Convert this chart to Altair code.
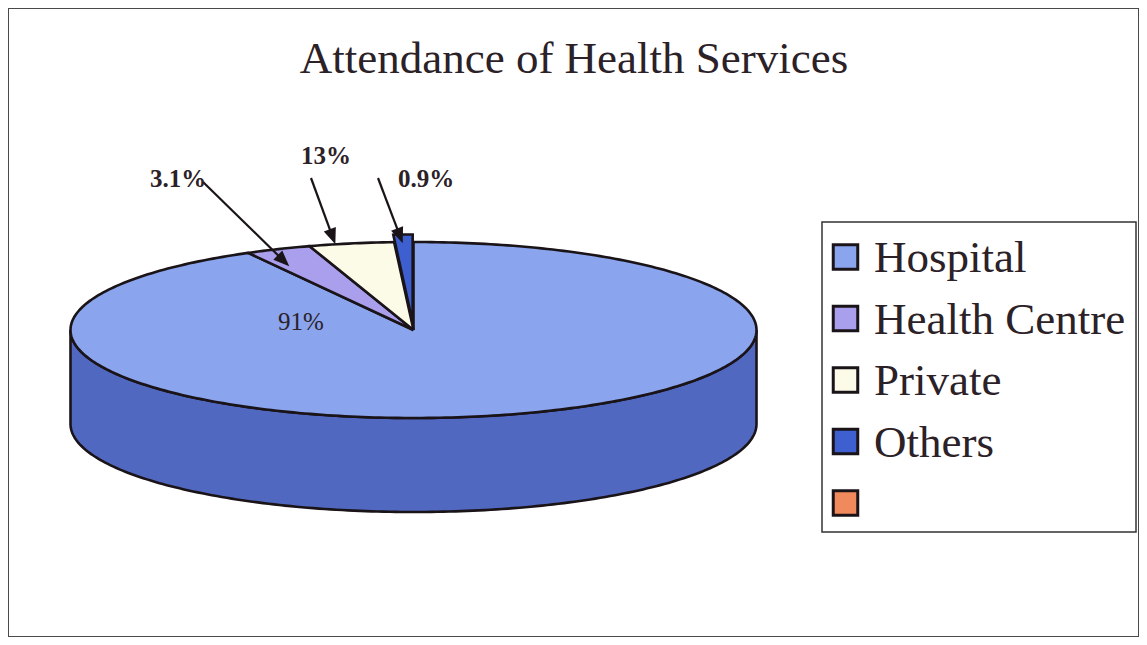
import numpy as np
import pandas as pd
import altair as alt

# ---------------- data ----------------
title_text = "Attendance of Health Services"
categories = ["Hospital", "Health Centre", "Private", "Others"]
shares = [92.0, 3.1, 4.0, 0.9]            # slice sizes as drawn
slice_labels = ["91%", "3.1%", "13%", "0.9%"]  # label texts as printed
legend_items = ["Hospital", "Health Centre", "Private", "Others", " "]
colors = ["#8aa4ee", "#a99fec", "#fbfbe8", "#3d5fcf", "#f08a5c"]
side_color = "#5068c0"
explode = [0.0, 0.0, 0.0, 0.085]

# ---------------- layout (pixels) ----------------
W, H = 1131, 629
CX, CY, RX, RY, DEPTH = 405.5, 322.0, 343.0, 88.0, 94.0
INK = "#2b2127"
SERIF = "Liberation Serif"
LINE_W = 2.6


def ell(theta, r=1.0, ox=0.0, oy=0.0, dy=0.0):
    t = np.radians(theta)
    return CX + ox + r * RX * np.sin(t), CY + oy + dy - r * RY * np.cos(t)


total = sum(shares)
bounds = np.concatenate([[0.0], np.cumsum(shares)]) / total * 360.0

top_rows, side_rows, offsets = [], [], []
for i, cat in enumerate(categories):
    a0, a1 = bounds[i], bounds[i + 1]
    mid = np.radians((a0 + a1) / 2)
    ox = explode[i] * RX * np.sin(mid)
    oy = -explode[i] * RY * np.cos(mid)
    offsets.append((ox, oy))
    n = max(3, int(np.ceil(a1 - a0)))
    pts = [ell(0, 0, ox, oy)] + [ell(a, 1, ox, oy) for a in np.linspace(a0, a1, n + 1)] + [ell(0, 0, ox, oy)]
    for k, (x, y) in enumerate(pts):
        top_rows.append(dict(slice=cat, x=x, y=y, k=k))
    # visible front side (90..270 deg)
    s0, s1 = max(a0, 90.0), min(a1, 270.0)
    if s1 > s0:
        arc = np.linspace(s0, s1, int(np.ceil(s1 - s0)) + 1)
        spts = [ell(a, 1, ox, oy) for a in arc] + [ell(a, 1, ox, oy, DEPTH) for a in arc[::-1]]
        spts.append(spts[0])
        for k, (x, y) in enumerate(spts):
            side_rows.append(dict(slice=cat, x=x, y=y, k=k))

top_df = pd.DataFrame(top_rows)
side_df = pd.DataFrame(side_rows)

xs = alt.Scale(domain=[0, W], nice=False, zero=False)
ys = alt.Scale(domain=[0, H], nice=False, zero=False, reverse=True)
fill_scale = alt.Scale(domain=legend_items, range=colors)

side = alt.Chart(side_df).mark_line(stroke="#1a1418", strokeWidth=LINE_W, fill=side_color).encode(
    x=alt.X("x:Q", scale=xs, axis=None),
    y=alt.Y("y:Q", scale=ys, axis=None),
    order="k:Q",
    detail="slice:N",
)

top = alt.Chart(top_df).mark_line(stroke="#1a1418", strokeWidth=LINE_W, strokeJoin="miter").encode(
    x=alt.X("x:Q", scale=xs, axis=None),
    y=alt.Y("y:Q", scale=ys, axis=None),
    order="k:Q",
    detail="slice:N",
    fill=alt.Fill("slice:N", scale=fill_scale, legend=None),
)

# ---------------- call-outs ----------------
tip_t = {1: 0.2, 2: 0.31, 3: 0.43}
tip_r = {1: 0.81, 2: 1.0, 3: 0.9}
label_pos = {0: (293, 322), 1: (170, 179), 2: (318, 156), 3: (418, 179)}
arrow_from = {1: (195, 174), 2: (303, 170), 3: (370, 170)}

lab_rows, arr_rows, head_rows = [], [], []
for i, txt in enumerate(slice_labels):
    lx, ly = label_pos[i]
    lab_rows.append(dict(x=lx, y=ly, text=txt, bold=i > 0))
    if i in tip_t:
        a = bounds[i] + tip_t[i] * (bounds[i + 1] - bounds[i])
        tx, ty = ell(a, tip_r[i], *offsets[i])
        sx, sy = arrow_from[i]
        dx, dy = tx - sx, ty - sy
        L = np.hypot(dx, dy)
        ux, uy = dx / L, dy / L
        arr_rows.append(dict(x=sx, y=sy, x2=tx - 13 * ux, y2=ty - 13 * uy))
        ang = (np.degrees(np.arctan2(dx, -dy)) + 360) % 360
        head_rows.append(dict(x=tx - 8 * ux, y=ty - 8 * uy, ang=ang))

lab_df = pd.DataFrame(lab_rows)
arrows = alt.Chart(pd.DataFrame(arr_rows)).mark_rule(color="#1a1418", strokeWidth=2.2).encode(
    x=alt.X("x:Q", scale=xs, axis=None), y=alt.Y("y:Q", scale=ys, axis=None),
    x2="x2:Q", y2="y2:Q",
)
heads = alt.Chart(pd.DataFrame(head_rows)).mark_point(
    shape="M0,-1L0.8,1L-0.8,1Z", filled=True, color="#1a1418", size=256, opacity=1
).encode(
    x=alt.X("x:Q", scale=xs, axis=None), y=alt.Y("y:Q", scale=ys, axis=None),
    angle=alt.Angle("ang:Q", scale=None),
)
bold_labels = alt.Chart(lab_df[lab_df.bold]).mark_text(
    font=SERIF, fontSize=25, fontWeight="bold", color=INK, align="center", baseline="alphabetic"
).encode(x=alt.X("x:Q", scale=xs, axis=None), y=alt.Y("y:Q", scale=ys, axis=None), text="text:N")
plain_labels = alt.Chart(lab_df[~lab_df.bold]).mark_text(
    font=SERIF, fontSize=25, color=INK, align="center", baseline="alphabetic"
).encode(x=alt.X("x:Q", scale=xs, axis=None), y=alt.Y("y:Q", scale=ys, axis=None), text="text:N")

# ---------------- title ----------------
title = alt.Chart(pd.DataFrame({"x": [566], "y": [65], "t": [title_text]})).mark_text(
    font=SERIF, fontSize=45, color=INK, align="center", baseline="alphabetic"
).encode(x=alt.X("x:Q", scale=xs, axis=None), y=alt.Y("y:Q", scale=ys, axis=None), text="t:N")

# ---------------- legend ----------------
LX0, LY0, LX1, LY1 = 814, 214, 1128, 524
leg_df = pd.DataFrame({"item": legend_items, "i": range(len(legend_items))})
leg_box = alt.Chart(pd.DataFrame({"a": [0]})).mark_rect(
    fill="white", stroke="#333333", strokeWidth=1.5
).encode(x=alt.value(LX0), x2=alt.value(LX1), y=alt.value(LY0), y2=alt.value(LY1))
leg_sym = alt.Chart(leg_df).transform_calculate(
    sx="837.5", sy="249 + datum.i * 61.5"
).mark_point(shape="square", filled=True, size=600, stroke="#1a1418", strokeWidth=3, opacity=1).encode(
    x=alt.X("sx:Q", scale=xs, axis=None), y=alt.Y("sy:Q", scale=ys, axis=None),
    fill=alt.Fill("item:N", scale=fill_scale, legend=None),
)
leg_txt = alt.Chart(leg_df).transform_calculate(
    sx="866", sy="249 + datum.i * 61.5 + 15"
).mark_text(font=SERIF, fontSize=45, color=INK, align="left", baseline="alphabetic").encode(
    x=alt.X("sx:Q", scale=xs, axis=None), y=alt.Y("sy:Q", scale=ys, axis=None), text="item:N",
)

chart = alt.layer(
    side, top, arrows, heads, bold_labels, plain_labels, title, leg_box, leg_sym, leg_txt
).properties(width=W, height=H, padding=0, autosize="none").configure_view(
    stroke="#4a4a4a", strokeWidth=2
)

chart.save("out.html", embed_options={"renderer": "svg", "actions": False})
